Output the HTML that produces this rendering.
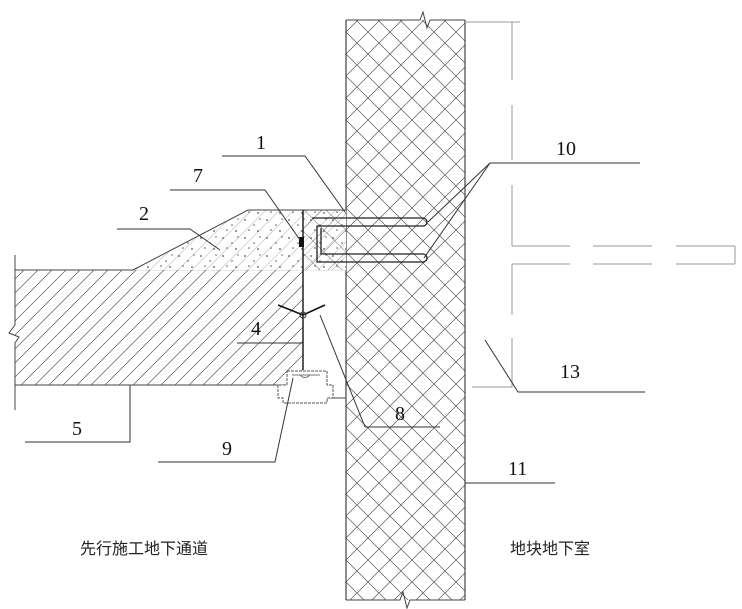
<!DOCTYPE html>
<html><head><meta charset="utf-8"><style>body{margin:0;background:#fff}svg{display:block}</style></head><body>
<svg width="742" height="609" viewBox="0 0 742 609" xmlns="http://www.w3.org/2000/svg" font-family="Liberation Serif, serif">
<defs>
<pattern id="xh" width="22" height="22" patternUnits="userSpaceOnUse" x="346" y="10">
<path d="M0 0L22 22M22 0L0 22" stroke="#555" stroke-width="0.7"/>
</pattern>
<pattern id="diag" width="14" height="14" patternUnits="userSpaceOnUse">
<path d="M0 14L14 0M-2 2L2 -2M12 16L16 12" stroke="#555" stroke-width="0.7"/>
</pattern>
<pattern id="dots" width="22" height="18" patternUnits="userSpaceOnUse">
<g fill="#555"><circle cx="3" cy="4" r="0.9"/><circle cx="12" cy="9" r="0.8"/><circle cx="18" cy="3" r="0.7"/><circle cx="7" cy="14" r="0.8"/><circle cx="16" cy="15" r="0.9"/></g>
</pattern>
</defs>
<rect x="346" y="20" width="119" height="580" fill="url(#xh)"/>
<path d="M346 20V600M465 20V600" stroke="#444" stroke-width="1.2"/>
<path d="M346 20H420l3 -8 4 16 3 -8H465" stroke="#444" fill="none"/>
<path d="M346 600H400l3 -8 4 16 3 -8H465" stroke="#444" fill="none"/>
<g stroke="#999" stroke-width="1" fill="none">
<path d="M465 22H520M512 22V80M512 105V160M512 185V246M512 246H570M593 246H652M676 246H735M512 264H570M593 264H652M676 264H735M512 264V315M512 338V387H472M735 246V264"/>
<path d="M15 270H346" stroke="#ccc"/>
</g>
<path d="M15 270H133L248 210H303V385H15Z" fill="url(#diag)"/>
<path d="M133 270L248 210H346V270H133Z" fill="#fff"/>
<path d="M133 270L248 210H346V270H133Z" fill="url(#diag)" opacity="0.35"/>
<path d="M133 270L248 210H346V270H133Z" fill="url(#dots)"/>
<path d="M303 210H346V270H303Z" fill="url(#xh)" opacity="0.6"/>
<path d="M15 270H133L248 210H346" stroke="#444" fill="none"/>
<path d="M15 385H285M330 398H346" stroke="#444" fill="none"/>
<path d="M15 255V325l-6 8 10 4 -4 6V410" stroke="#444" fill="none"/>
<path d="M303 210V370" stroke="#222" stroke-width="1.5"/>
<g stroke="#222" fill="none" stroke-width="1.3">
<path d="M312 218H423a4 4 0 0 1 0 8H317V262H423a4 4 0 0 0 0 -8H321V228"/>
</g>
<rect x="299" y="237" width="5" height="10" fill="#111"/>
<path d="M278 305L303 315L325 305" stroke="#111" stroke-width="1.6" fill="none"/>
<circle cx="303" cy="315" r="3" fill="none" stroke="#333"/>
<path d="M287 371H327V385H333V398H327V403H283V398H278V385H287Z" fill="#fff" stroke="#555" stroke-dasharray="3 1"/>
<path d="M292 375H320M300 375q5 5 10 0" stroke="#777" fill="none"/>
<g stroke="#333" fill="none" stroke-width="1">
<path d="M222 156H305L345 212"/>
<path d="M170 190H265L300 240"/>
<path d="M117 229H190L220 250"/>
<path d="M640 163H490L428 222M490 163L424 258"/>
<path d="M237 343H303"/>
<path d="M25 442H130V385"/>
<path d="M158 462H275L293 378"/>
<path d="M365 427H440M365 427L320 315"/>
<path d="M645 392H518L485 340"/>
<path d="M465 483H555"/>
</g>
<g font-size="20" fill="#111">
<text x="256" y="149">1</text>
<text x="193" y="182">7</text>
<text x="139" y="220">2</text>
<text x="556" y="155">10</text>
<text x="251" y="335">4</text>
<text x="72" y="435">5</text>
<text x="222" y="455">9</text>
<text x="395" y="420">8</text>
<text x="560" y="378">13</text>
<text x="508" y="475">11</text>
</g>
<g font-family="Liberation Sans, 'Noto Sans CJK SC', sans-serif" font-size="16" fill="#222">
<text x="80" y="554">先行施工地下通道</text>
<text x="510" y="554">地块地下室</text>
</g>
</svg>
</body></html>
